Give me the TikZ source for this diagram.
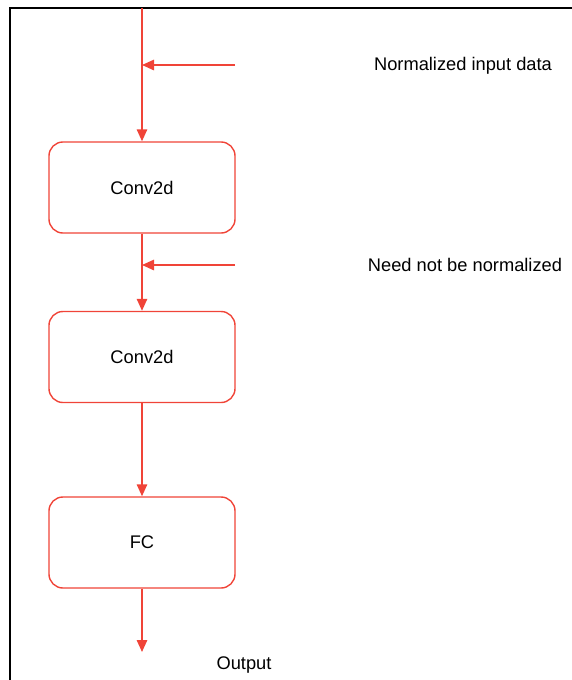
\documentclass[tikz,border=0pt]{standalone}
\usepackage{fontspec}
\setmainfont{Liberation Sans}
\usetikzlibrary{arrows.meta, positioning}
\definecolor{flowred}{RGB}{240,68,56}
\tikzset{
  layer/.style={draw=flowred, line width=1pt, rounded corners=0.35cm,
    minimum width=4.65cm, minimum height=2.275cm, font=\fontsize{13}{15}\selectfont},
  flow/.style={draw=flowred, line width=1.2pt, -{Triangle[length=0.3cm,width=0.26cm]}},
  note/.style={font=\fontsize{13}{15}\selectfont}
}
\begin{document}
\begin{tikzpicture}[x=0.025cm, y=-0.025cm]
  \useasboundingbox (0,0) rectangle (572,680);
  % frame
  \draw[line width=1.8pt] (10,680) -- (10,8) -- (572,8);
  % layers
  \node[layer] (conv1) at (142,187.5) {Conv2d};
  \node[layer] (conv2) at (142,357) {Conv2d};
  \node[layer] (fc) at (142,542.5) {FC};
  % free ends
  \coordinate (top) at (142,8);
  \coordinate (in1) at (235,65);
  \coordinate (in2) at (235,265);
  \coordinate (out) at (142,652);
  % data flow
  \draw[flow] (top) -- (conv1);
  \draw[flow] (in1) -- (in1 -| conv1);
  \draw[flow] (conv1) -- (conv2);
  \draw[flow] (in2) -- (in2 -| conv2);
  \draw[flow] (conv2) -- (fc);
  \draw[flow] (fc) -- (out);
  % labels
  \node[note] (normlab) at (463,66) {Normalized input data};
  \node[note] (needlab) at (465,265) {Need not be normalized};
  \node[note] (outlab) at (244,665) {Output};
\end{tikzpicture}
\end{document}
